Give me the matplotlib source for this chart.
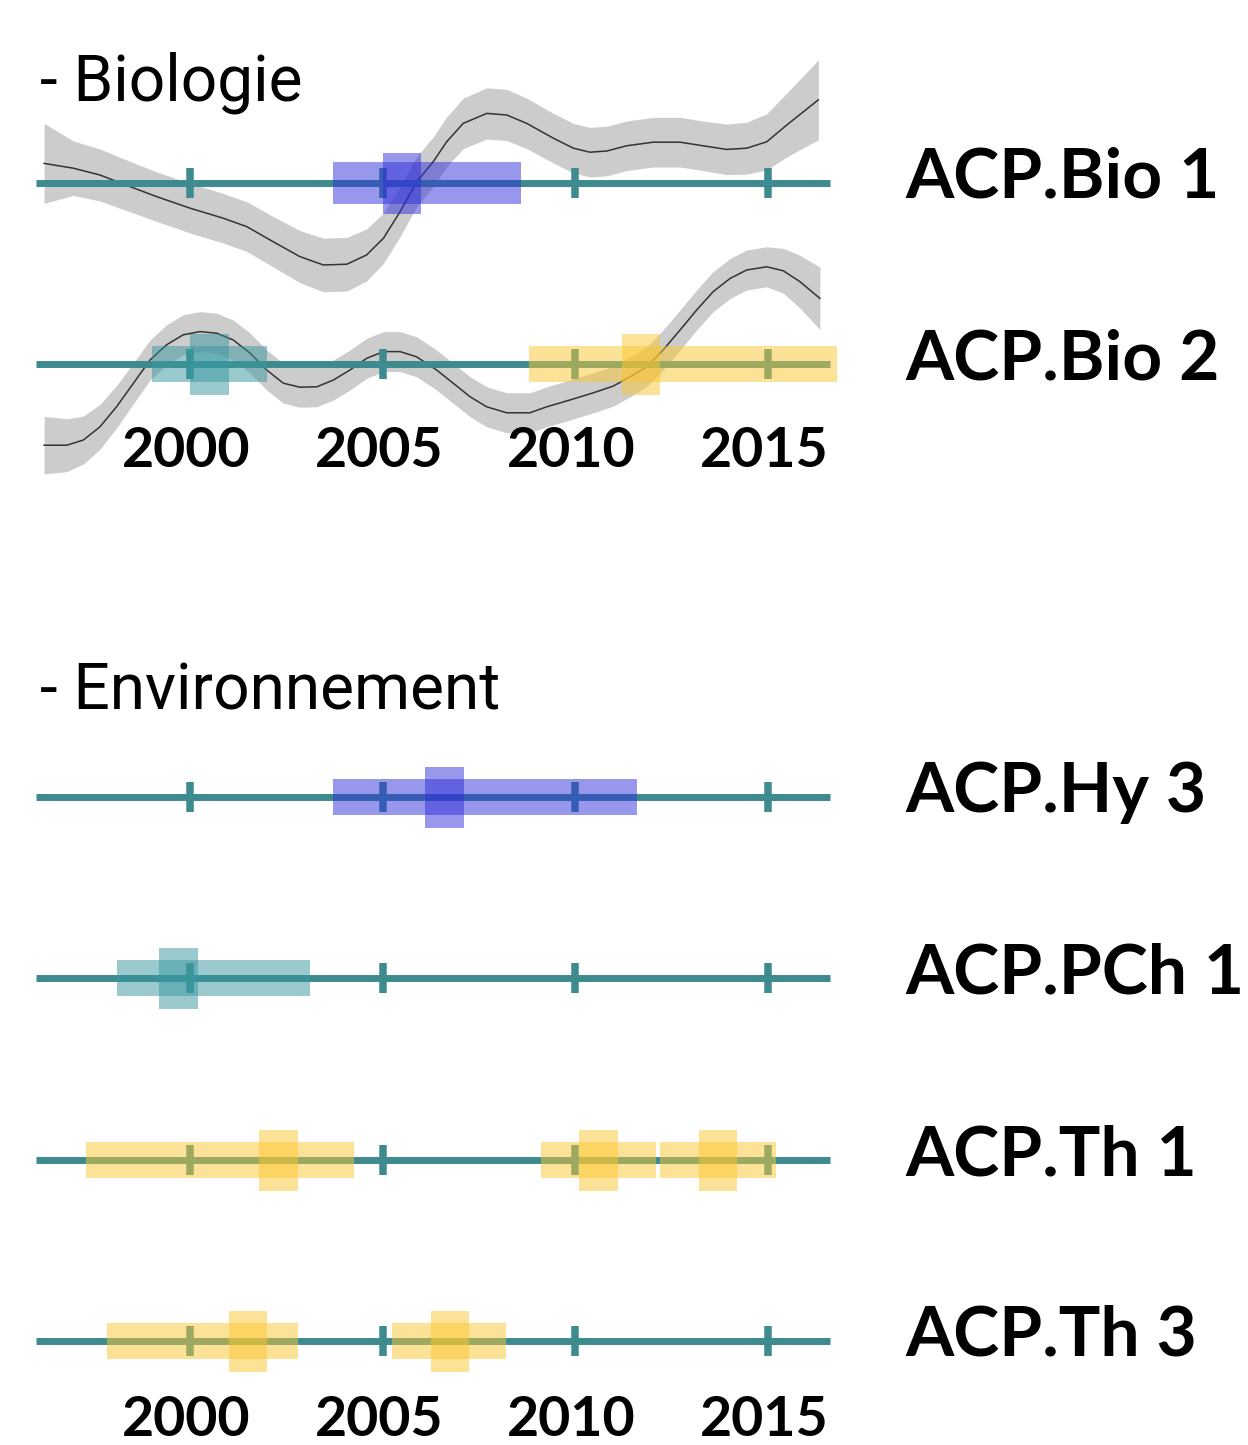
import matplotlib.pyplot as plt

# axe des temps
tick_years = [2000, 2005, 2010, 2015]
axis_start, axis_end = 1996.0, 2016.6

row_names = ['ACP.Bio 1', 'ACP.Bio 2', 'ACP.Hy 3', 'ACP.PCh 1', 'ACP.Th 1', 'ACP.Th 3']

# périodes de rupture : (début, fin) large, (début, fin) pic, couleur
bio1_periods = [((2003.7, 2008.6), (2005.0, 2006.0), 'blue')]
bio2_periods = [((1999.0, 2002.0), (2000.0, 2001.0), 'teal'),
                ((2008.8, 2016.8), (2011.2, 2012.2), 'yellow')]
hy3_periods = [((2003.7, 2011.6), (2006.1, 2007.1), 'blue')]
pch1_periods = [((1998.1, 2003.1), (1999.2, 2000.2), 'teal')]
th1_periods = [((1997.3, 2004.25), (2001.8, 2002.8), 'yellow'),
               ((2009.1, 2012.1), (2010.1, 2011.1), 'yellow'),
               ((2012.2, 2015.2), (2013.2, 2014.2), 'yellow')]
th3_periods = [((1997.85, 2002.8), (2001.0, 2002.0), 'yellow'),
               ((2005.25, 2008.2), (2006.25, 2007.25), 'yellow')]

# courbes lissées (score) et demi-largeur de l'intervalle
bio1_years = [1996.21, 1996.97, 1997.66, 1998.44, 1999.13, 2000.00, 2000.86, 2001.47,
              2002.16, 2002.85, 2003.46, 2004.07, 2004.58, 2005.02, 2005.45, 2005.88,
              2006.31, 2006.66, 2007.09, 2007.70, 2008.22, 2008.74, 2009.43, 2009.95,
              2010.38, 2010.82, 2011.33, 2012.02, 2012.72, 2013.32, 2013.93, 2014.45,
              2014.97, 2015.49, 2015.92, 2016.31]
bio1_score = [0.49, 0.37, 0.20, -0.09, -0.34, -0.63, -0.88, -1.09,
              -1.47, -1.84, -2.05, -2.03, -1.80, -1.38, -0.72, 0.03,
              0.53, 1.03, 1.49, 1.74, 1.70, 1.49, 1.12, 0.87,
              0.77, 0.80, 0.93, 1.02, 1.02, 0.93, 0.84, 0.87,
              1.03, 1.45, 1.78, 2.08]
bio1_se = [1.00, 0.68, 0.65, 0.63, 0.62, 0.62, 0.62, 0.62,
           0.63, 0.65, 0.67, 0.67, 0.65, 0.63, 0.62, 0.62,
           0.62, 0.62, 0.63, 0.64, 0.64, 0.63, 0.62, 0.62,
           0.62, 0.62, 0.62, 0.62, 0.62, 0.62, 0.63, 0.65,
           0.70, 0.80, 0.90, 1.00]

bio2_years = [1996.21, 1996.80, 1997.23, 1997.66, 1998.09, 1998.53, 1998.96, 1999.39,
              1999.82, 2000.26, 2000.69, 2001.12, 2001.56, 2001.99, 2002.42, 2002.85,
              2003.29, 2003.72, 2004.15, 2004.58, 2005.02, 2005.45, 2005.88, 2006.40,
              2006.83, 2007.27, 2007.70, 2008.22, 2008.82, 2009.26, 2009.86, 2010.47,
              2010.99, 2011.42, 2011.85, 2012.28, 2012.72, 2013.15, 2013.58, 2014.02,
              2014.45, 2014.97, 2015.40, 2015.83, 2016.35]
bio2_score = [-2.03, -2.03, -1.90, -1.57, -1.07, -0.48, 0.10, 0.48,
              0.73, 0.81, 0.77, 0.60, 0.27, -0.15, -0.48, -0.58,
              -0.57, -0.40, -0.15, 0.14, 0.31, 0.31, 0.18, -0.15,
              -0.48, -0.82, -1.07, -1.22, -1.22, -1.07, -0.90, -0.72,
              -0.55, -0.32, -0.07, 0.35, 0.85, 1.35, 1.81, 2.14,
              2.35, 2.43, 2.33, 2.06, 1.64]
bio2_se = [0.72, 0.66, 0.60, 0.56, 0.53, 0.51, 0.50, 0.50,
           0.50, 0.50, 0.50, 0.50, 0.50, 0.50, 0.50, 0.50,
           0.50, 0.50, 0.50, 0.50, 0.50, 0.50, 0.50, 0.50,
           0.50, 0.50, 0.50, 0.50, 0.50, 0.50, 0.50, 0.50,
           0.50, 0.50, 0.50, 0.50, 0.50, 0.50, 0.50, 0.50,
           0.50, 0.50, 0.56, 0.66, 0.78]

# mise en page (pixels)
W, H = 1248, 1445
px_per_year = 38.52
x0_year = 2007.5 - 479 / px_per_year
row_y = [183, 364, 797, 978, 1160, 1341]
wide_h = [42, 36, 36, 36, 36, 36]
peak_h = 61
score_px = 40

colors = {'blue': '#3030d8', 'teal': '#39979f', 'yellow': '#fbc731'}
line_color = '#3d8b8f'

fig = plt.figure(figsize=(W / 100, H / 100), dpi=100)
ax = fig.add_axes([0, 0, 1, 1])
ax.set_xlim(x0_year, x0_year + W / px_per_year)
ax.set_ylim(H, 0)
ax.axis('off')

# courbes lissées pour la biologie
for y, yrs, sc, se in [(row_y[0], bio1_years, bio1_score, bio1_se),
                       (row_y[1], bio2_years, bio2_score, bio2_se)]:
    upper = [y - (s + e) * score_px for s, e in zip(sc, se)]
    lower = [y - (s - e) * score_px for s, e in zip(sc, se)]
    mid = [y - s * score_px for s in sc]
    ax.fill_between(yrs, upper, lower, color='#cccccc', lw=0, zorder=1)
    ax.plot(yrs, mid, color='#333333', lw=1.1, zorder=2)

all_periods = [bio1_periods, bio2_periods, hy3_periods, pch1_periods, th1_periods, th3_periods]
for i, name in enumerate(row_names):
    y = row_y[i]
    ax.plot([axis_start, axis_end], [y, y], color=line_color, lw=5, solid_capstyle='butt', zorder=3)
    ax.vlines(tick_years, y - 15, y + 15, color=line_color, lw=5.4, zorder=3)
    for (w0, w1), (p0, p1), c in all_periods[i]:
        ax.bar(w0, wide_h[i], width=w1 - w0, bottom=y - wide_h[i] / 2, align='edge',
               color=colors[c], alpha=0.5, lw=0, zorder=4)
        ax.bar(p0, peak_h, width=p1 - p0, bottom=y - peak_h / 2, align='edge',
               color=colors[c], alpha=0.5, lw=0, zorder=4)
    ax.text(905 / W, y + 15, name, transform=ax.get_yaxis_transform(),
            fontsize=50, fontweight='bold', family=['Lato', 'DejaVu Sans'],
            ha='left', va='baseline')

# années
for base in [467, 1436]:
    for yr in tick_years:
        ax.text(yr - 0.1, base, str(yr), fontsize=40, fontweight='bold',
                family=['Lato', 'DejaVu Sans'], ha='center', va='baseline')

# titres de section
ax.text(40 / W, 100, '- Biologie', transform=ax.get_yaxis_transform(),
        fontsize=46, family=['Roboto', 'DejaVu Sans'], va='baseline')
ax.text(40 / W, 710, '- Environnement', transform=ax.get_yaxis_transform(),
        fontsize=46, family=['Roboto', 'DejaVu Sans'], va='baseline')

fig.savefig('out.png', dpi=100)
